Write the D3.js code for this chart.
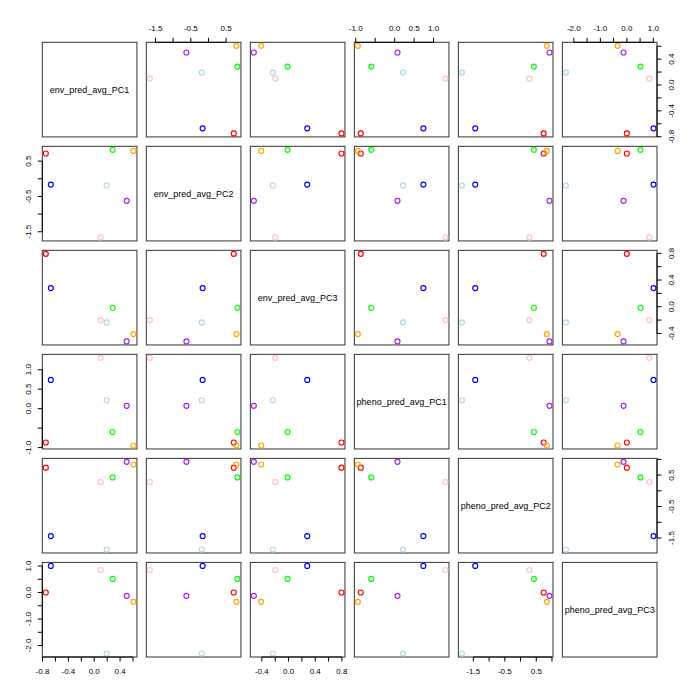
<!DOCTYPE html>
<html>
<head>
<meta charset="utf-8">
<script src="https://cdn.jsdelivr.net/npm/d3@7"></script>
<style>
html,body{margin:0;padding:0;background:#fff;}
svg text{font-family:"Liberation Sans",Arial,Helvetica,sans-serif;fill:#000;}
</style>
</head>
<body>
<svg id="chart" width="700" height="700"></svg>
<script>
// ---- data ----
const variables = ["env_pred_avg_PC1","env_pred_avg_PC2","env_pred_avg_PC3","pheno_pred_avg_PC1","pheno_pred_avg_PC2","pheno_pred_avg_PC3"];
const pointColors = ["#FF0000","#0000FF","#00FF00","#FFA500","#A020F0","#ADD8E6","#FFC0CB"];
const env_pred_avg_PC1   = [-0.749, -0.671,  0.285,  0.606,  0.502,  0.192,  0.099];
const env_pred_avg_PC2   = [ 0.716, -0.165,  0.820,  0.790, -0.624, -0.190, -1.660];
const env_pred_avg_PC3   = [ 0.793,  0.280, -0.015, -0.410, -0.520, -0.235, -0.200];
const pheno_pred_avg_PC1 = [-0.870,  0.738, -0.600, -0.945,  0.073,  0.215,  1.305];
const pheno_pred_avg_PC2 = [ 0.735, -1.440,  0.425,  0.835,  0.920, -1.865,  0.280];
const pheno_pred_avg_PC3 = [ 0.000,  1.005,  0.515, -0.350, -0.125, -2.300,  0.850];
const columns = [env_pred_avg_PC1, env_pred_avg_PC2, env_pred_avg_PC3, pheno_pred_avg_PC1, pheno_pred_avg_PC2, pheno_pred_avg_PC3];

// tick values per variable
const ticks1 = [-0.8,-0.6,-0.4,-0.2,0,0.2,0.4,0.6];
const ticks2 = [-1.5,-1.0,-0.5,0,0.5];
const ticks3 = [-0.4,-0.2,0,0.2,0.4,0.6,0.8];
const ticks4 = [-1.0,-0.5,0,0.5,1.0];
const ticks5 = [-1.5,-1.0,-0.5,0,0.5,1.0];
const ticks6 = [-2.0,-1.5,-1.0,-0.5,0,0.5,1.0];
const allTicks = [ticks1,ticks2,ticks3,ticks4,ticks5,ticks6];
// labelled ticks (horizontal axes / vertical axes)
const xLabels1 = [-0.8,-0.4,0,0.4];
const xLabels2 = [-1.5,-0.5,0.5];
const xLabels3 = [-0.4,0,0.4,0.8];
const xLabels4 = [-1.0,0,0.5,1.0];
const xLabels5 = [-1.5,-0.5,0.5];
const xLabels6 = [-2.0,-1.0,0,1.0];
const yLabels1 = [-0.8,-0.4,0,0.4];
const yLabels2 = [-1.5,-0.5,0.5];
const yLabels3 = [-0.4,0,0.4,0.8];
const yLabels4 = [-1.0,0,0.5,1.0];
const yLabels5 = [-1.5,-0.5,0.5];
const yLabels6 = [-2.0,-1.0,0,1.0];
const xLabelSets = [xLabels1,xLabels2,xLabels3,xLabels4,xLabels5,xLabels6];
const yLabelSets = [yLabels1,yLabels2,yLabels3,yLabels4,yLabels5,yLabels6];

// ---- layout ----
const n = variables.length;
const left = 42.3, right = 657, gap = 9.4;
const w = (right - left - gap*(n-1)) / n;
const svg = d3.select("#chart");
const fmt = v => d3.format(".1f")(v).replace("−","-");

function extent4(a){
  const [mn,mx] = d3.extent(a); const r = mx-mn;
  return [mn - 0.04*r, mx + 0.04*r];
}
const xScales = columns.map((c,k)=>{
  const x0 = left + k*(w+gap);
  return d3.scaleLinear().domain(extent4(c)).range([x0, x0+w]);
});
const yScales = columns.map((c,k)=>{
  const y0 = left + k*(w+gap);
  return d3.scaleLinear().domain(extent4(c)).range([y0+w, y0]);
});

const tickLen = 4.5, labOff = 14;

for (let i=0;i<n;i++){        // row
  for (let j=0;j<n;j++){      // col
    const x = xScales[j], y = yScales[i];
    const px = x.range()[0], py = y.range()[1];
    const g = svg.append("g");
    g.append("rect").attr("x",px).attr("y",py).attr("width",w).attr("height",w)
      .attr("fill","none").attr("stroke","#333").attr("stroke-width",1);

    // axes as in R pairs
    if (i===0 && j%2===1) drawHAxis(x, py, -1, allTicks[j], xLabelSets[j]);      // top
    if (i===n-1 && j%2===0) drawHAxis(x, py+w, 1, allTicks[j], xLabelSets[j]);   // bottom
    if (j===0 && i%2===1) drawVAxis(y, px, -1, allTicks[i], yLabelSets[i]);      // left
    if (j===n-1 && i%2===0) drawVAxis(y, px+w, 1, allTicks[i], yLabelSets[i]);   // right

    if (i===j){
      g.append("text").attr("x",px+w/2).attr("y",py+w/2)
        .attr("text-anchor","middle").attr("dominant-baseline","central")
        .attr("font-size","9px").text(variables[i]);
    } else {
      g.selectAll("circle").data(d3.range(columns[0].length)).join("circle")
        .attr("cx",d=>x(columns[j][d])).attr("cy",d=>y(columns[i][d]))
        .attr("r",2.5).attr("fill","none").attr("stroke",d=>pointColors[d]).attr("stroke-width",1.15);
    }
  }
}

function drawHAxis(x, y0, dir, tks, labs){
  const g = svg.append("g");
  g.append("line").attr("x1",x(d3.min(tks))).attr("x2",x(d3.max(tks)))
    .attr("y1",y0).attr("y2",y0).attr("stroke","#000");
  g.selectAll("line.t").data(tks).join("line").attr("class","t")
    .attr("x1",d=>x(d)).attr("x2",d=>x(d)).attr("y1",y0).attr("y2",y0+dir*tickLen)
    .attr("stroke","#000");
  g.selectAll("text").data(labs).join("text")
    .attr("x",d=>x(d)).attr("y",y0+dir*labOff)
    .attr("text-anchor","middle").attr("dominant-baseline","central")
    .attr("font-size","8px").text(fmt);
}
function drawVAxis(y, x0, dir, tks, labs){
  const g = svg.append("g");
  g.append("line").attr("y1",y(d3.min(tks))).attr("y2",y(d3.max(tks)))
    .attr("x1",x0).attr("x2",x0).attr("stroke","#000");
  g.selectAll("line.t").data(tks).join("line").attr("class","t")
    .attr("y1",d=>y(d)).attr("y2",d=>y(d)).attr("x1",x0).attr("x2",x0+dir*tickLen)
    .attr("stroke","#000");
  g.selectAll("text").data(labs).join("text")
    .attr("transform",d=>`translate(${x0+dir*labOff},${y(d)}) rotate(-90)`)
    .attr("text-anchor","middle").attr("dominant-baseline","central")
    .attr("font-size","8px").text(fmt);
}
</script>
</body>
</html>
